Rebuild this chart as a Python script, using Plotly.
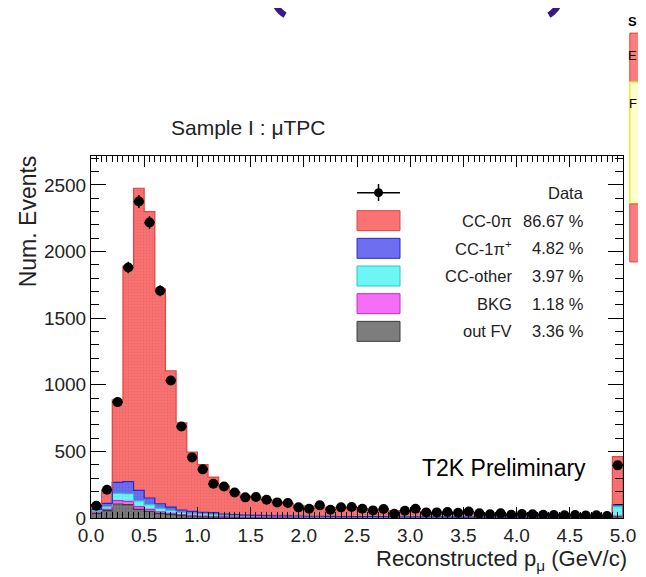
import numpy as np
import plotly.graph_objects as go

# ---------------- data ----------------
bin_lo = [round(0.1 * i, 1) for i in range(50)]

data_counts = [92, 212, 870, 1880, 2375, 2218, 1705, 1032, 687, 455,
               365, 257, 237, 192, 155, 157, 137, 117, 112, 80,
               70, 95, 62, 80, 82, 70, 57, 67, 32, 55,
               70, 42, 42, 45, 40, 48, 35, 28, 35, 25,
               30, 28, 25, 22, 20, 22, 18, 20, 15, 395]

mc_total = [100, 205, 887, 1890, 2475, 2300, 1720, 1105, 715, 495,
            400, 307, 240, 195, 165, 150, 135, 120, 108, 95,
            88, 82, 76, 72, 68, 64, 60, 56, 53, 50,
            48, 45, 43, 41, 39, 37, 35, 33, 31, 30,
            28, 27, 26, 25, 24, 23, 22, 21, 20, 460]

out_fv = [35, 55, 105, 100, 65, 50, 35, 25, 18, 13,
          10, 8, 6, 5, 4, 4, 3, 3, 3, 3,
          2, 2, 2, 2, 2, 2, 2, 2, 1, 1,
          1, 1, 1, 1, 1, 1, 1, 1, 1, 1,
          1, 1, 1, 1, 1, 1, 1, 1, 1, 10]
bkg = [10, 10, 25, 25, 20, 15, 12, 10, 8, 7,
       5, 5, 4, 3, 3, 3, 2, 2, 2, 2,
       2, 2, 2, 1, 1, 1, 1, 1, 1, 1,
       1, 1, 1, 1, 1, 1, 1, 1, 1, 1,
       1, 1, 1, 1, 1, 1, 1, 1, 1, 5]
cc_other = [10, 20, 55, 57, 43, 35, 25, 22, 16, 15,
            15, 14, 12, 10, 9, 8, 8, 7, 7, 6,
            6, 6, 5, 5, 5, 5, 4, 4, 4, 4,
            4, 4, 4, 3, 3, 3, 3, 3, 3, 3,
            3, 3, 3, 3, 3, 3, 3, 3, 3, 70]
cc_1pi = [10, 25, 82, 91, 79, 50, 35, 25, 18, 15,
          13, 13, 8, 7, 6, 5, 5, 4, 4, 4,
          3, 3, 3, 3, 3, 3, 3, 3, 3, 3,
          2, 2, 2, 2, 2, 2, 2, 2, 2, 2,
          2, 2, 2, 2, 2, 2, 2, 2, 2, 15]

legend_names = ["CC-0\u03c0", "CC-1\u03c0<sup>+</sup>", "CC-other", "BKG", "out FV"]
legend_pcts = ["86.67 %", "4.82 %", "3.97 %", "1.18 %", "3.36 %"]

# ---------------- derived ----------------
lo = np.array(bin_lo)
centers = lo + 0.05
comp = [np.array(out_fv), np.array(bkg), np.array(cc_other), np.array(cc_1pi)]
cc0 = np.array(mc_total) - sum(comp)
stack = comp + [cc0]  # bottom -> top

fills = ["rgb(125,125,125)", "rgb(245,110,245)", "rgb(110,245,245)", "rgb(110,110,240)", "rgb(250,115,115)"]
edges_c = ["rgb(60,60,60)", "rgb(200,40,200)", "rgb(40,200,200)", "rgb(40,40,200)", "rgb(225,70,70)"]
dots = ["rgb(80,80,80)", "rgb(220,80,220)", "rgb(80,215,215)", "rgb(80,80,215)", "rgb(225,90,90)"]

fig = go.Figure()
for i, h in enumerate(stack):
    fig.add_trace(go.Bar(x=centers, y=h, width=0.1,
                         marker=dict(color=fills[i], line=dict(width=0),
                                     pattern=dict(shape=".", size=3, solidity=0.35,
                                                  fgcolor=dots[i], bgcolor=fills[i])),
                         showlegend=False, hoverinfo="skip"))

cum = np.zeros(len(lo))
for i, h in enumerate(stack):
    cum = cum + h
    xs = np.concatenate([[0.0], lo, [5.0, 5.0]])
    ys = np.concatenate([[0.0], cum, [cum[-1], 0.0]])
    fig.add_trace(go.Scatter(x=xs, y=ys, mode="lines", line=dict(shape="hv", color=edges_c[i], width=1.2),
                             showlegend=False, hoverinfo="skip"))

dc = np.array(data_counts)
fig.add_trace(go.Scatter(x=centers, y=dc, mode="markers",
                         marker=dict(color="black", size=10, symbol="circle"),
                         error_y=dict(type="data", array=np.sqrt(dc), color="black", thickness=1.5, width=0),
                         error_x=dict(type="constant", value=0.05, color="black", thickness=1.5, width=0),
                         showlegend=False, hoverinfo="skip"))

# ---------------- layout geometry (window pixels) ----------------
OFF = 8  # page body margin
W, H = 646 - 2 * OFF, 577 - OFF
L, R, T, B = 90.7, 623.2, 156.0, 518.3


def fx(px):
    return (px - L) / (R - L)


def fy(py):
    return (B - py) / (B - T)


FONT = "Liberation Sans, Arial, Helvetica, sans-serif"
shapes = []
annotations = []

# legend
rows = [220.7, 248.4, 276.1, 303.8, 331.5]
shapes.append(dict(type="line", xref="paper", yref="paper", x0=fx(357), x1=fx(400), y0=fy(192.7), y1=fy(192.7),
                   line=dict(color="black", width=1.5)))
shapes.append(dict(type="line", xref="paper", yref="paper", x0=fx(378.5), x1=fx(378.5), y0=fy(184), y1=fy(201),
                   line=dict(color="black", width=1.5)))
shapes.append(dict(type="circle", xref="paper", yref="paper", x0=fx(374), x1=fx(383), y0=fy(197.2), y1=fy(188.2),
                   fillcolor="black", line=dict(color="black", width=0)))
annotations.append(dict(text="Data", xref="paper", yref="paper", x=fx(586), y=fy(192.7), xanchor="right",
                        yanchor="middle", showarrow=False, font=dict(family=FONT, size=16.5, color="#222")))
legend_order = [4, 3, 2, 1, 0]
for r, si, name, pct in zip(rows, legend_order, legend_names, legend_pcts):
    shapes.append(dict(type="rect", xref="paper", yref="paper", x0=fx(357), x1=fx(400), y0=fy(r + 10), y1=fy(r - 10),
                       fillcolor=fills[si], line=dict(color=edges_c[si], width=1)))
    annotations.append(dict(text=name, xref="paper", yref="paper", x=fx(514), y=fy(r), xanchor="right",
                            yanchor="middle", showarrow=False, font=dict(family=FONT, size=16.5, color="#222")))
    annotations.append(dict(text=pct, xref="paper", yref="paper", x=fx(586), y=fy(r), xanchor="right",
                            yanchor="middle", showarrow=False, font=dict(family=FONT, size=16.5, color="#222")))

# texts
annotations.append(dict(text="T2K Preliminary", xref="paper", yref="paper", x=fx(504), y=fy(468),
                        xanchor="center", yanchor="middle", showarrow=False,
                        font=dict(family=FONT, size=23, color="black")))
annotations.append(dict(text="Sample I : \u03bcTPC", xref="paper", yref="paper", x=fx(248), y=fy(127),
                        xanchor="center", yanchor="middle", showarrow=False,
                        font=dict(family=FONT, size=21, color="#222")))
annotations.append(dict(text="Num. Events", xref="paper", yref="paper", x=fx(28), y=fy(221),
                        xanchor="center", yanchor="middle", textangle=-90, showarrow=False,
                        font=dict(family=FONT, size=23, color="#222")))
annotations.append(dict(text="Reconstructed p<sub>\u03bc</sub> (GeV/c)", xref="paper", yref="paper",
                        x=fx(629), y=fy(560), xanchor="right", yanchor="middle", showarrow=False,
                        font=dict(family=FONT, size=22, color="#222")))

# slide decorations (cropped parentheses and side table)
purple = "rgb(55,25,140)"
shapes.append(dict(type="path", xref="paper", yref="paper",
                   path="M %f,%f Q %f,%f %f,%f" % (fx(270), fy(-12), fx(273), fy(8), fx(285), fy(15)),
                   line=dict(color=purple, width=6)))
shapes.append(dict(type="path", xref="paper", yref="paper",
                   path="M %f,%f Q %f,%f %f,%f" % (fx(564), fy(-12), fx(561), fy(8), fx(549), fy(15)),
                   line=dict(color=purple, width=6)))
shapes.append(dict(type="rect", xref="paper", yref="paper", x0=fx(630), x1=fx(652), y0=fy(82), y1=fy(33),
                   fillcolor="rgb(255,125,125)", line=dict(color="rgb(220,70,70)", width=1)))
shapes.append(dict(type="rect", xref="paper", yref="paper", x0=fx(630), x1=fx(652), y0=fy(204), y1=fy(82),
                   fillcolor="rgb(255,255,205)", line=dict(color="rgb(235,235,50)", width=1.5)))
shapes.append(dict(type="rect", xref="paper", yref="paper", x0=fx(630), x1=fx(652), y0=fy(262), y1=fy(204),
                   fillcolor="rgb(255,125,125)", line=dict(color="rgb(220,70,70)", width=1)))
for t, yy, bold in [("S", 21, True), ("E", 55, False), ("F", 103, False)]:
    annotations.append(dict(text="<b>S</b>" if bold else t, xref="paper", yref="paper", x=fx(638.5), y=fy(yy),
                            xanchor="right", yanchor="middle", showarrow=False, borderpad=0,
                            font=dict(family=FONT, size=13, color="black")))

axis_common = dict(showline=True, linecolor="black", linewidth=1, mirror="ticks", ticks="inside",
                   tickcolor="black", tickwidth=1, showgrid=False, zeroline=False, automargin=False,
                   tickfont=dict(family=FONT, size=19, color="#222"))

fig.update_layout(
    width=W, height=H,
    margin=dict(l=L - OFF, r=W - (R - OFF), t=T - OFF, b=H - (B - OFF), pad=0, autoexpand=False),
    paper_bgcolor="white", plot_bgcolor="white",
    barmode="stack", bargap=0,
    showlegend=False,
    xaxis=dict(range=[0, 5.0], dtick=0.5, tick0=0, tickformat=".1f", ticklen=11,
               minor=dict(dtick=0.05, ticks="inside", ticklen=6, tickcolor="black"), **axis_common),
    yaxis=dict(range=[0, 2717], dtick=500, tick0=0, ticklen=15,
               minor=dict(dtick=100, ticks="inside", ticklen=8, tickcolor="black"), **axis_common),
    shapes=shapes,
    annotations=annotations,
)

fig.write_html("out.html")
